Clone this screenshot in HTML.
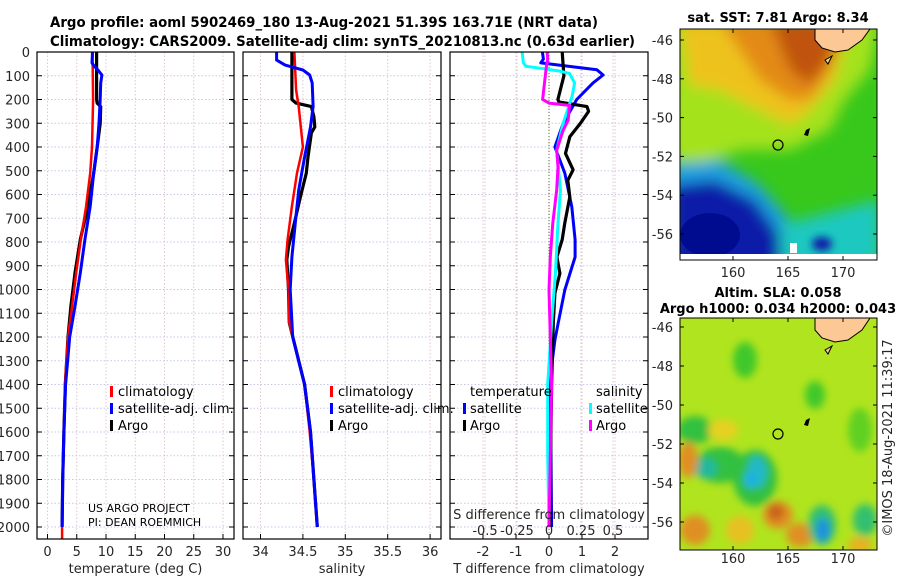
<!DOCTYPE html>
<html><head><meta charset="utf-8">
<style>
html,body{margin:0;padding:0;background:#fff;}
svg{display:block;font-family:"DejaVu Sans","Liberation Sans",sans-serif;}
.tk{font-size:13px;fill:#262626;}
.ttl{font-size:14px;font-weight:bold;fill:#000;}
.lg{font-size:13px;fill:#000;}
</style></head>
<body>
<svg id="fig" width="900" height="580" viewBox="0 0 900 580" xmlns="http://www.w3.org/2000/svg">
<defs>
<clipPath id="cp1"><rect x="37" y="52" width="197" height="487"/></clipPath>
<clipPath id="cp2"><rect x="243" y="52" width="198" height="487"/></clipPath>
<clipPath id="cp3"><rect x="450" y="52" width="198" height="487"/></clipPath>
<clipPath id="cm1"><rect x="680" y="29" width="197" height="231"/></clipPath>
<clipPath id="cm2"><rect x="680" y="318" width="197" height="232"/></clipPath>
<filter id="bl" x="-50%" y="-50%" width="200%" height="200%"><feGaussianBlur stdDeviation="7"/></filter>
<filter id="bl2" x="-50%" y="-50%" width="200%" height="200%"><feGaussianBlur stdDeviation="4"/></filter>
</defs>
<text class="ttl" x="50" y="27" textLength="548" lengthAdjust="spacingAndGlyphs">Argo profile: aoml 5902469_180 13-Aug-2021 51.39S 163.71E (NRT data)</text>
<text class="ttl" x="50" y="46" textLength="585" lengthAdjust="spacingAndGlyphs">Climatology: CARS2009. Satellite-adj clim: synTS_20210813.nc (0.63d earlier)</text>

<g id="grids"></g>
<g id="series"></g>
<g id="axes"></g>

<g>
<rect x="110" y="386" width="3" height="11" fill="#f00"/><text class="lg" x="118" y="396">climatology</text>
<rect x="110" y="403" width="3" height="11" fill="#00f"/><text class="lg" x="118" y="413">satellite-adj. clim.</text>
<rect x="110" y="420" width="3" height="11" fill="#000"/><text class="lg" x="118" y="430">Argo</text>
</g>
<g>
<rect x="330" y="386" width="3" height="11" fill="#f00"/><text class="lg" x="338" y="396">climatology</text>
<rect x="330" y="403" width="3" height="11" fill="#00f"/><text class="lg" x="338" y="413">satellite-adj. clim.</text>
<rect x="330" y="420" width="3" height="11" fill="#000"/><text class="lg" x="338" y="430">Argo</text>
</g>
<g>
<text class="lg" x="470" y="396">temperature</text>
<rect x="463" y="403" width="3" height="11" fill="#00f"/><text class="lg" x="470" y="413">satellite</text>
<rect x="463" y="420" width="3" height="11" fill="#000"/><text class="lg" x="470" y="430">Argo</text>
<text class="lg" x="596" y="396">salinity</text>
<rect x="589" y="403" width="3" height="11" fill="#0ff"/><text class="lg" x="596" y="413">satellite</text>
<rect x="589" y="420" width="3" height="11" fill="#f0f"/><text class="lg" x="596" y="430">Argo</text>
</g>
<text x="88" y="512" style="font-size:11px">US ARGO PROJECT</text>
<text x="88" y="526" style="font-size:11px">PI: DEAN ROEMMICH</text>
<text class="tk" x="549" y="519" text-anchor="middle">S difference from climatology</text>

<text class="ttl" x="778" y="22" text-anchor="middle" style="font-size:13px">sat. SST: 7.81 Argo: 8.34</text>
<g clip-path="url(#cm1)">
<rect x="680" y="29" width="197" height="231" fill="#38c81c"/>
<g filter="url(#bl)">
<path d="M670 20 L880 20 L870 70 L845 100 L830 130 L790 150 L740 150 L700 165 L670 160 Z" fill="#a4e21c"/>
<path d="M680 20 L850 20 L835 80 L810 110 L790 125 L760 110 L720 90 L690 85 Z" fill="#eec21e"/>
<path d="M720 20 L845 20 L830 70 L810 100 L790 100 L760 80 L740 50 Z" fill="#e38a14"/>
<path d="M770 20 L845 20 L830 60 L810 85 L790 70 Z" fill="#c0520c"/>
<path d="M670 165 L720 160 L760 185 L790 220 L800 270 L670 270 Z" fill="#1aa0e0"/>
<path d="M670 185 L715 180 L755 200 L780 235 L790 270 L670 270 Z" fill="#0a1aa8"/>
<path d="M780 225 L880 200 L880 270 L780 270 Z" fill="#1ac8c0"/>
</g>
<ellipse cx="822" cy="244" rx="10" ry="7" fill="#0a1aa8" filter="url(#bl2)"/>
<ellipse cx="710" cy="235" rx="30" ry="22" fill="#000c90"/>
<rect x="680" y="254" width="197" height="6" fill="#fff"/>
<path d="M790 243 L797 243 L797 253 L790 253 Z" fill="#fff"/>
<path d="M815 29 L870 29 L862 40 L848 50 L835 52 L822 48 L815 40 Z" fill="#fcc894" stroke="#000" stroke-width="1"/>
<path d="M825 60 L832 56 L828 64 Z" fill="#fcc894" stroke="#000"/>
<path d="M806 130 L810 128 L808 136 L804 135 Z" fill="#000"/>
<circle cx="778" cy="145" r="5" fill="none" stroke="#000" stroke-width="1.2"/>
</g>
<rect x="680" y="29" width="197" height="231" fill="none" stroke="#000"/>

<text class="ttl" x="778" y="297" text-anchor="middle" style="font-size:13px">Altim. SLA: 0.058</text>
<text class="ttl" x="778" y="313" text-anchor="middle" style="font-size:13px">Argo h1000: 0.034 h2000: 0.043</text>
<g clip-path="url(#cm2)">
<rect x="680" y="318" width="197" height="232" fill="#b0e41e"/>
<g filter="url(#bl2)">
<ellipse cx="695" cy="430" rx="18" ry="14" fill="#30c040"/>
<ellipse cx="720" cy="465" rx="25" ry="18" fill="#30c040"/>
<ellipse cx="755" cy="478" rx="22" ry="28" fill="#30c040"/>
<ellipse cx="705" cy="468" rx="12" ry="10" fill="#20b8a0"/>
<ellipse cx="757" cy="472" rx="10" ry="16" fill="#20b8c8"/>
<ellipse cx="750" cy="480" rx="6" ry="8" fill="#1ab0e8"/>
<ellipse cx="723" cy="430" rx="15" ry="10" fill="#e8d020"/>
<ellipse cx="688" cy="460" rx="10" ry="18" fill="#e09020"/>
<ellipse cx="778" cy="515" rx="15" ry="14" fill="#e09020"/>
<ellipse cx="776" cy="512" rx="8" ry="8" fill="#c8601c"/>
<ellipse cx="800" cy="535" rx="14" ry="12" fill="#e09020"/>
<ellipse cx="695" cy="530" rx="15" ry="15" fill="#e09020"/>
<ellipse cx="740" cy="530" rx="14" ry="14" fill="#e8c020"/>
<ellipse cx="822" cy="525" rx="14" ry="20" fill="#30c070"/>
<ellipse cx="823" cy="530" rx="7" ry="12" fill="#1a90e0"/>
<ellipse cx="865" cy="520" rx="12" ry="16" fill="#30c070"/>
<ellipse cx="745" cy="360" rx="12" ry="18" fill="#40c82a"/>
<ellipse cx="815" cy="395" rx="10" ry="14" fill="#40c82a"/>
<ellipse cx="860" cy="430" rx="12" ry="22" fill="#60d020"/>
<ellipse cx="860" cy="545" rx="12" ry="8" fill="#e8b020"/>
</g>
<path d="M815 318 L870 318 L862 330 L848 340 L835 342 L822 338 L815 330 Z" fill="#fcc894" stroke="#000" stroke-width="1"/>
<path d="M825 350 L832 346 L828 354 Z" fill="#fcc894" stroke="#000"/>
<path d="M806 420 L810 418 L808 426 L804 425 Z" fill="#000"/>
<circle cx="778" cy="434" r="5" fill="none" stroke="#000" stroke-width="1.2"/>
</g>
<rect x="680" y="318" width="197" height="232" fill="none" stroke="#000"/>
<g id="mapaxes"></g>
<text class="tk" transform="translate(892,438) rotate(-90)" text-anchor="middle">©IMOS 18-Aug-2021 11:39:17</text>
</svg>
<script>
const depthTicks = [0,100,200,300,400,500,600,700,800,900,1000,1100,1200,1300,1400,1500,1600,1700,1800,1900,2000];
const tempTicks = [0,5,10,15,20,25,30];
const salTicks = [34,34.5,35,35.5,36];
const salTickLabels = ['34','34.5','35','35.5','36'];
const tDiffTicks = [-2,-1,0,1,2];
const sDiffTicks = [-0.5,-0.25,0,0.25,0.5];
const sDiffTickLabels = ['-0.5','-0.25','0','0.25','0.5'];

const tClimDepth = [0,200,400,510,650,790,930,1070,1200,1400,1600,1800,2000,2060];
const tClim = [7.7,7.8,7.6,7.3,6.6,5.7,4.9,4.2,3.5,3.0,2.8,2.6,2.5,2.5];
const tSatDepth = [0,46,60,75,97,131,200,300,400,510,650,790,930,1070,1200,1400,1600,1800,2000];
const tSat = [7.7,7.6,8.0,8.6,9.3,9.1,9.0,8.8,8.5,7.9,7.3,6.4,5.6,4.7,3.8,3.1,2.8,2.6,2.5];
const tArgoDepth = [0,100,200,215,230,300,400,510,650,790,930,1070,1200,1400,1600,1800,2000];
const tArgo = [8.4,8.4,8.4,8.5,9.1,9.0,8.5,7.9,6.9,5.6,4.7,4.0,3.5,3.05,2.8,2.6,2.5];

const sClimDepth = [0,160,230,400,510,650,790,875,1000,1140,1400,1600,1800,2000];
const sClim = [34.40,34.42,34.45,34.50,34.43,34.37,34.32,34.30,34.33,34.34,34.52,34.58,34.63,34.67];
const sSatDepth = [0,34,55,76,97,131,230,316,442,581,720,863,1000,1200,1400,1600,1800,2000];
const sSat = [34.19,34.19,34.29,34.5,34.58,34.61,34.62,34.59,34.52,34.45,34.41,34.37,34.35,34.38,34.52,34.59,34.63,34.67];
const sArgoDepth = [0,200,215,230,273,316,340,442,510,610,720,820,875,1000,1140,1400,1600,1800,2000];
const sArgo = [34.37,34.37,34.42,34.60,34.63,34.64,34.60,34.56,34.54,34.47,34.40,34.33,34.31,34.33,34.34,34.52,34.59,34.63,34.67];

const dTSatDepth = [0,30,46,75,97,131,200,300,400,510,652,790,863,1002,1141,1213,1300,1400,1700,2000];
const dTSat = [-0.2,-0.17,-0.25,1.45,1.64,1.33,0.84,0.43,0.18,0.48,0.69,0.79,0.79,0.48,0.28,0.18,0.1,0.02,0.06,0.08];
const dTArgoDepth = [0,100,200,210,230,250,300,357,427,496,540,610,720,790,863,932,1015,1140,1400,1700,2000];
const dTArgo = [0.4,0.45,0.27,0.3,1.15,1.2,0.95,0.63,0.5,0.73,0.57,0.63,0.48,0.4,0.24,0.33,0.18,0.13,0.08,0.05,0.05];
const dSSatDepth = [0,46,60,68,80,90,131,188,300,413,581,720,932,1140,1400,1700,2000];
const dSSat = [-0.21,-0.2,-0.18,-0.07,0.08,0.16,0.2,0.18,0.11,0.06,0.09,0.07,0.05,0.02,-0.01,-0.01,0.0];
const dSArgoDepth = [0,30,60,200,215,225,287,330,413,484,581,720,863,1002,1400,1700,2000];
const dSArgo = [-0.015,-0.01,-0.02,-0.05,0.0,0.16,0.15,0.11,0.06,0.07,0.06,0.03,0.01,0.0,0.02,0.01,0.0];

const latTicks = [-46,-48,-50,-52,-54,-56];
const lonTicks = [160,165,170];

const yD = d => 52 + d*0.2375;
const xT = t => 47.5 + t*5.85;
const xS = s => 260.5 + (s-34)*84.8;
const xDT = t => 549 + t*33;
const xDS = s => 549 + s*128;
const lonX = l => 733 + (l-160)*11;
const latY1 = l => 40 + (-46-l)*19.4;
const latY2 = l => 327 + (-46-l)*19.5;

const NS='http://www.w3.org/2000/svg';
function mk(tag, parent, attrs){const e=document.createElementNS(NS,tag);for(const k in attrs)e.setAttribute(k,attrs[k]);parent.appendChild(e);return e;}
const grids=document.getElementById('grids'), series=document.getElementById('series'), axes=document.getElementById('axes'), mapaxes=document.getElementById('mapaxes');

const panels=[{x0:37,x1:234,ticks:tempTicks,labels:tempTicks.map(String),sx:xT,title:'temperature (deg C)',cp:'cp1',name:'temperature'},
 {x0:243,x1:441,ticks:salTicks,labels:salTickLabels,sx:xS,title:'salinity',cp:'cp2',name:'salinity'},
 {x0:450,x1:648,ticks:tDiffTicks,labels:tDiffTicks.map(String),sx:xDT,title:'T difference from climatology',cp:'cp3',name:'difference'}];

panels.forEach((p,pi)=>{
  const g=mk('g',grids,{});
  
  
  depthTicks.forEach(d=>{mk('line',g,{x1:p.x0,x2:p.x1,y1:yD(d),y2:yD(d),stroke:'#c4c8e8','stroke-dasharray':'1.5,2','stroke-width':1});});
  const vt = pi===2 ? tDiffTicks.map(xDT).concat(sDiffTicks.map(xDS)) : p.ticks.map(p.sx);
  vt.forEach(x=>{mk('line',g,{x1:x,x2:x,y1:52,y2:539,stroke:'#e0c8d0','stroke-dasharray':'1.5,2','stroke-width':1});});
  const a=mk('g',axes,{});
  
  
  mk('rect',a,{x:p.x0,y:52,width:p.x1-p.x0,height:487,fill:'none',stroke:'#000','stroke-width':1.2});
  depthTicks.forEach(d=>{
    mk('line',a,{x1:p.x0,x2:p.x0+5,y1:yD(d),y2:yD(d),stroke:'#000'});
    mk('line',a,{x1:p.x1-5,x2:p.x1,y1:yD(d),y2:yD(d),stroke:'#000'});
    if(pi===0){const t=mk('text',a,{x:30,y:yD(d)+5,'text-anchor':'end','class':'tk'});t.textContent=d;}
  });
  p.ticks.forEach((v,i)=>{
    const x=p.sx(v);
    mk('line',a,{x1:x,x2:x,y1:539,y2:534,stroke:'#000'});
    const t=mk('text',a,{x:x,y:556,'text-anchor':'middle','class':'tk'});t.textContent=p.labels[i];
  });
  const tt=mk('text',a,{x:(p.x0+p.x1)/2,y:573,'text-anchor':'middle','class':'tk'});
  tt.textContent=p.title;
  
  
});
sDiffTicks.forEach((v,i)=>{const t=mk('text',axes,{x:xDS(v),y:535,'text-anchor':'middle','class':'tk'});t.textContent=sDiffTickLabels[i];});
const zl=mk('line',grids,{x1:549,x2:549,y1:52,y2:539,stroke:'#556b2f','stroke-dasharray':'1,2','stroke-width':1});



function line(vals,depths,sx,color,w,cp,name){
  const pts=vals.map((v,i)=>sx(v).toFixed(1)+','+yD(depths[i]).toFixed(1)).join(' ');
  const e=mk('polyline',series,{points:pts,fill:'none',stroke:color,'stroke-width':w,'stroke-linejoin':'round','clip-path':'url(#'+cp+')'});
  
  
}
line(tArgo,tArgoDepth,xT,'#000',3.2,'cp1','temp-argo-line');
line(tClim,tClimDepth,xT,'#f00',2.5,'cp1','temp-climatology-line');
line(tSat,tSatDepth,xT,'#00f',3,'cp1','temp-satellite-line');
line(sArgo,sArgoDepth,xS,'#000',3.2,'cp2','sal-argo-line');
line(sClim,sClimDepth,xS,'#f00',2.5,'cp2','sal-climatology-line');
line(sSat,sSatDepth,xS,'#00f',3,'cp2','sal-satellite-line');
line(dTSat,dTSatDepth,xDT,'#00f',3,'cp3','tdiff-satellite-line');
line(dTArgo,dTArgoDepth,xDT,'#000',3.2,'cp3','tdiff-argo-line');
line(dSSat,dSSatDepth,xDS,'#0ff',3,'cp3','sdiff-satellite-line');
line(dSArgo,dSArgoDepth,xDS,'#f0f',3,'cp3','sdiff-argo-line');

[[latY1,29,260,277],[latY2,318,550,563]].forEach(([ly,y0,y1,lab])=>{
  latTicks.forEach(l=>{
    const y=ly(l);
    mk('line',mapaxes,{x1:680,x2:684,y1:y,y2:y,stroke:'#000'});
    mk('line',mapaxes,{x1:873,x2:877,y1:y,y2:y,stroke:'#000'});
    const t=mk('text',mapaxes,{x:673,y:y+5,'text-anchor':'end','class':'tk'});t.textContent=l;
  });
  lonTicks.forEach(l=>{
    const x=lonX(l);
    mk('line',mapaxes,{x1:x,x2:x,y1:y1,y2:y1-4,stroke:'#000'});
    mk('line',mapaxes,{x1:x,x2:x,y1:y0,y2:y0+4,stroke:'#000'});
    const t=mk('text',mapaxes,{x:x,y:lab,'text-anchor':'middle','class':'tk'});t.textContent=l;
  });
});
</script>
</body></html>
